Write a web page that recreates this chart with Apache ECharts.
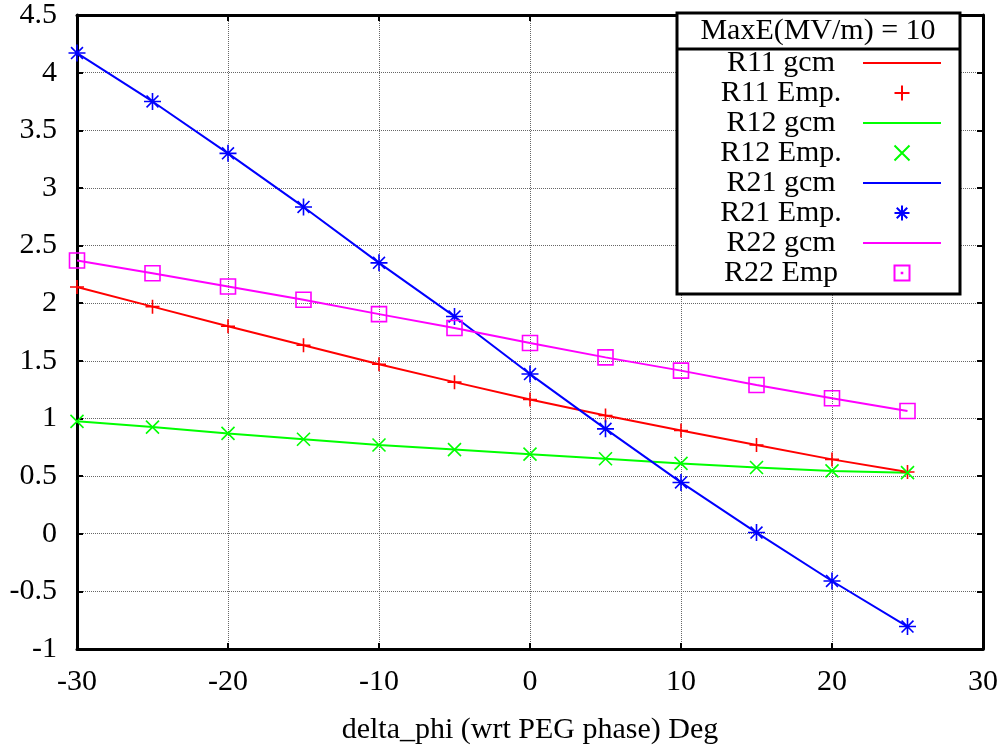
<!DOCTYPE html>
<html>
<head>
<meta charset="utf-8">
<script src="https://cdn.jsdelivr.net/npm/echarts@6/dist/echarts.min.js"></script>
<style>html,body{margin:0;padding:0;background:#fff}#c{width:1002px;height:750px}</style>
</head>
<body>
<div id="c"></div>
<script>
const deltaPhi = [-30, -25, -20, -15, -10, -5, 0, 5, 10, 15, 20, 25];
const r11 = [2.14, 1.97, 1.80, 1.635, 1.47, 1.315, 1.165, 1.025, 0.895, 0.77, 0.645, 0.535];
const r12 = [0.975, 0.925, 0.87, 0.82, 0.77, 0.73, 0.69, 0.65, 0.61, 0.575, 0.545, 0.53];
const r21 = [4.17, 3.75, 3.30, 2.835, 2.35, 1.885, 1.385, 0.91, 0.445, 0.01, -0.41, -0.805];
const r22 = [2.37, 2.26, 2.145, 2.03, 1.905, 1.785, 1.655, 1.53, 1.415, 1.29, 1.175, 1.065];
const legendTitle = 'MaxE(MV/m) = 10';
const xTitle = 'delta_phi (wrt PEG phase) Deg';

const FONT = 'Liberation Serif';
const pts = v => deltaPhi.map((x, i) => [x, v[i]]);

const SYM_PLUS = 'path://M5,0L5,10M0,5L10,5';
const SYM_CROSS = 'path://M0,0L10,10M0,10L10,0';
const SYM_STAR = 'path://M5,0L5,10M0,5L10,5M1.5,1.5L8.5,8.5M1.5,8.5L8.5,1.5';
const SYM_SQUARE = 'path://M0,0L10,0L10,10L0,10Z';
const SYM_SQUARE_DOT = 'path://M0,0L10,0L10,10L0,10ZM4.8,4.8L5.2,4.8L5.2,5.2L4.8,5.2Z';
const ICON_LINE = 'path://M0,0L78,0L78,2L0,2Z';

function lineSeries(name, vals, color) {
  return { name, type: 'line', data: pts(vals), symbol: 'none', showSymbol: false,
    lineStyle: { color, width: 2 }, itemStyle: { color }, z: 2, animation: false };
}
function markSeries(name, vals, color, symbol, size) {
  return { name, type: 'scatter', data: pts(vals), symbol, symbolSize: size,
    itemStyle: { color: 'none', borderColor: color, borderWidth: 1.6, opacity: 1 }, z: 3, animation: false };
}
function lineLegend(name, color) {
  return { name, icon: ICON_LINE, itemStyle: { color, borderWidth: 0 } };
}

const chart = echarts.init(document.getElementById('c'), null, { renderer: 'canvas' });

const axisCommon = {
  axisLine: { show: true, onZero: false, lineStyle: { color: '#000', width: 3 } },
  axisTick: { show: true, inside: true, length: 6, lineStyle: { color: '#000', width: 2 } },
};

chart.setOption({
  backgroundColor: '#fff',
  animation: false,
  grid: { left: 77, right: 19, top: 13, bottom: 101, containLabel: false },
  xAxis: [
    Object.assign({ type: 'value', min: -30, max: 30, interval: 10, position: 'bottom',
      axisLabel: { color: '#000', fontFamily: FONT, fontSize: 30, margin: 18 },
      splitLine: { show: true, lineStyle: { color: '#666', type: 'dotted', width: 1 } },
      name: xTitle, nameLocation: 'middle', nameGap: 66,
      nameTextStyle: { color: '#000', fontFamily: FONT, fontSize: 30 } }, axisCommon),
    Object.assign({ type: 'value', min: -30, max: 30, interval: 10, position: 'top',
      axisLabel: { show: false }, splitLine: { show: false } }, axisCommon)
  ],
  yAxis: [
    Object.assign({ type: 'value', min: -1, max: 4.5, interval: 0.5, position: 'left',
      axisLabel: { color: '#000', fontFamily: FONT, fontSize: 30, margin: 20 },
      splitLine: { show: true, lineStyle: { color: '#666', type: 'dotted', width: 1 } } }, axisCommon),
    Object.assign({ type: 'value', min: -1, max: 4.5, interval: 0.5, position: 'right',
      axisLabel: { show: false }, splitLine: { show: false } }, axisCommon)
  ],
  legend: {
    orient: 'vertical', align: 'right', right: 61, top: 48, padding: 0, itemGap: 0,
    itemWidth: 78, itemHeight: 15, selectedMode: false,
    formatter: '{t|{name}}',
    textStyle: { color: '#000', fontFamily: FONT, fontSize: 30,
      rich: { t: { width: 154, align: 'center', fontFamily: FONT, fontSize: 30, lineHeight: 30.7, color: '#000' } } },
    data: [
      lineLegend('R11 gcm', '#ff0000'), 'R11 Emp.',
      lineLegend('R12 gcm', '#00ff00'), 'R12 Emp.',
      lineLegend('R21 gcm', '#0000ff'), 'R21 Emp.',
      lineLegend('R22 gcm', '#ff00ff'), { name: 'R22 Emp', icon: SYM_SQUARE_DOT }
    ],
    z: 20
  },
  graphic: [
    { type: 'rect', shape: { x: 677, y: 13, width: 283, height: 281 },
      style: { fill: '#fff', stroke: '#000', lineWidth: 3 }, z: 10 },
    { type: 'line', shape: { x1: 677, y1: 49, x2: 960, y2: 49 },
      style: { stroke: '#000', lineWidth: 3 }, z: 11 },
    { type: 'text', x: 818, y: 31, z: 11,
      style: { text: legendTitle, fill: '#000', font: '30px "Liberation Serif"', align: 'center', verticalAlign: 'middle' } }
  ],
  series: [
    lineSeries('R11 gcm', r11, '#ff0000'),
    markSeries('R11 Emp.', r11, '#ff0000', SYM_PLUS, 14),
    lineSeries('R12 gcm', r12, '#00ff00'),
    markSeries('R12 Emp.', r12, '#00ff00', SYM_CROSS, 13),
    lineSeries('R21 gcm', r21, '#0000ff'),
    markSeries('R21 Emp.', r21, '#0000ff', SYM_STAR, 17),
    lineSeries('R22 gcm', r22, '#ff00ff'),
    markSeries('R22 Emp', r22, '#ff00ff', SYM_SQUARE, 15)
  ]
});
</script>
</body>
</html>
